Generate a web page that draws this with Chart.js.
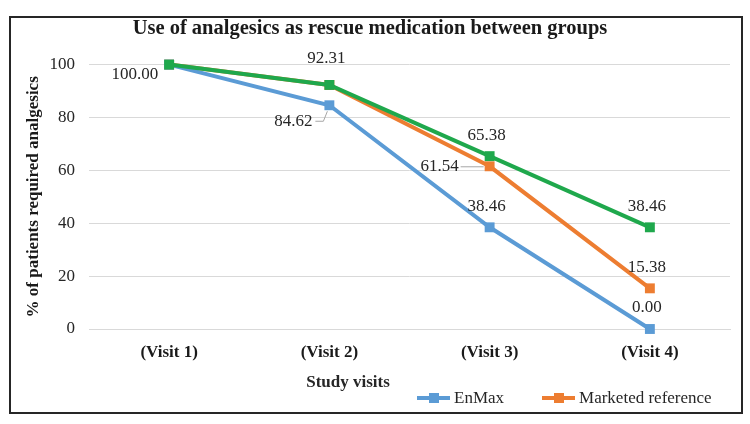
<!DOCTYPE html>
<html>
<head>
<meta charset="utf-8">
<script src="https://cdn.jsdelivr.net/npm/chart.js@4.4.1/dist/chart.umd.min.js"></script>
<style>
    html, body { margin: 0; padding: 0; background: #fff; }
    #wrap { position: relative; width: 750px; height: 424px; }
    #frame { position: absolute; left: 9px; top: 16px; width: 734px; height: 398px; box-sizing: border-box; border: 2px solid #262626; pointer-events: none; }
    #x-title { position: absolute; left: 290px; top: 372px; width: 116px; text-align: center; font: bold 17px 'Liberation Serif', 'Times New Roman', serif; color: #262626; }
    #legend { position: absolute; left: 417px; top: 388px; display: flex; font: 17px 'Liberation Serif', 'Times New Roman', serif; color: #262626; }
    .item { display: flex; align-items: center; margin-right: 38px; }
    .swatch { position: relative; width: 33px; height: 4px; margin-right: 4px; }
    .swatch i { position: absolute; left: 12px; top: -3px; width: 10px; height: 10px; }
</style>
</head>
<body>
<div id="wrap">
    <canvas id="chart" width="750" height="424"></canvas>
    <div id="frame"></div>
    <div id="x-title">Study visits</div>
    <div id="legend"></div>
</div>
<script>
const visits = ['(Visit 1)', '(Visit 2)', '(Visit 3)', '(Visit 4)'];
const enmax = [100.00, 84.62, 38.46, 0.00];
const marketed = [100.00, 92.31, 61.54, 15.38];
const third = [100.00, 92.31, 65.38, 38.46];
const yTicks = [0, 20, 40, 60, 80, 100];

// where each value label sits (null = no label)
const enmaxLabels = [null, 'leftLeader', 'above', 'above'];
const marketedLabels = [null, null, 'leftLine', 'above'];
const thirdLabels = ['left', 'aboveHigh', 'above', 'above'];

const BLUE = '#5b9bd5';
const ORANGE = '#ed7d31';
const GREEN = '#1fa84c';
const SERIF = "'Liberation Serif', 'Times New Roman', serif";

const legendEl = document.getElementById('legend');
[['EnMax', BLUE], ['Marketed reference', ORANGE]].forEach(([name, color]) => {
    const item = document.createElement('div');
    item.className = 'item';
    item.innerHTML = `<span class="swatch" style="background:${color}"><i style="background:${color}"></i></span>${name}`;
    legendEl.appendChild(item);
});

const valueLabels = {
    id: 'valueLabels',
    afterDatasetsDraw(chart) {
        const ctx = chart.ctx;
        ctx.save();
        ctx.font = '17px ' + SERIF;
        ctx.fillStyle = '#262626';
        ctx.strokeStyle = '#a6a6a6';
        ctx.lineWidth = 1;
        ctx.textBaseline = 'middle';
        chart.data.datasets.forEach((ds, di) => {
            const meta = chart.getDatasetMeta(di);
            ds.labelPos.forEach((pos, i) => {
                if (!pos) return;
                const p = meta.data[i];
                const text = ds.data[i].toFixed(2);
                if (pos === 'above' || pos === 'aboveHigh') {
                    ctx.textAlign = 'center';
                    ctx.fillText(text, p.x - 3, p.y - (pos === 'aboveHigh' ? 26 : 21));
                } else if (pos === 'left') {
                    ctx.textAlign = 'right';
                    ctx.fillText(text, p.x - 11, p.y + 10);
                } else if (pos === 'leftLeader') {
                    ctx.textAlign = 'right';
                    ctx.fillText(text, p.x - 17, p.y + 16);
                    ctx.beginPath();
                    ctx.moveTo(p.x - 14, p.y + 16);
                    ctx.lineTo(p.x - 6, p.y + 16);
                    ctx.lineTo(p.x - 2, p.y + 6);
                    ctx.stroke();
                } else if (pos === 'leftLine') {
                    ctx.textAlign = 'right';
                    ctx.fillText(text, p.x - 31, p.y);
                    ctx.beginPath();
                    ctx.moveTo(p.x - 29, p.y + 0.5);
                    ctx.lineTo(p.x - 6, p.y + 0.5);
                    ctx.stroke();
                }
            });
        });
        ctx.restore();
    }
};

function series(label, data, color, labelPos, order) {
    return {
        label: label,
        data: data,
        labelPos: labelPos,
        order: order,
        borderColor: color,
        backgroundColor: color,
        borderWidth: 4,
        pointStyle: 'rect',
        pointRadius: 7,
        pointBorderWidth: 0,
        tension: 0,
        clip: false
    };
}

new Chart(document.getElementById('chart'), {
    type: 'line',
    data: {
        labels: visits,
        datasets: [
            series('EnMax', enmax, BLUE, enmaxLabels, 0),
            series('Marketed reference', marketed, ORANGE, marketedLabels, 0),
            series('Comparator', third, GREEN, thirdLabels, -1)
        ]
    },
    options: {
        responsive: false,
        animation: false,
        layout: { padding: { left: 10, right: 20, top: 13, bottom: 55 } },
        plugins: {
            legend: { display: false },
            tooltip: { enabled: false },
            title: {
                display: true,
                text: 'Use of analgesics as rescue medication between groups',
                color: '#1a1a1a',
                font: { family: SERIF, size: 20.5, weight: 'bold' },
                padding: { top: 3, bottom: 24 }
            }
        },
        scales: {
            x: {
                offset: true,
                grid: { display: false, drawTicks: false },
                border: { display: true, color: '#d9d9d9', width: 1 },
                ticks: {
                    padding: 13,
                    color: '#1a1a1a',
                    font: { family: SERIF, size: 17, weight: 'bold' }
                },
                afterFit(scale) { scale.height = 40; }
            },
            y: {
                min: 0,
                max: 100,
                afterBuildTicks(scale) { scale.ticks = yTicks.map(v => ({ value: v })); },
                grid: { color: '#d9d9d9', lineWidth: 1, drawTicks: false },
                border: { display: false },
                ticks: {
                    padding: 14,
                    color: '#262626',
                    font: { family: SERIF, size: 17 }
                },
                title: {
                    display: true,
                    text: '% of patients required analgesics',
                    color: '#1a1a1a',
                    font: { family: SERIF, size: 17, weight: 'bold' },
                    padding: { top: 13, bottom: 0 }
                },
                afterFit(scale) { scale.width = 79; }
            }
        }
    },
    plugins: [valueLabels]
});
</script>
</body>
</html>
